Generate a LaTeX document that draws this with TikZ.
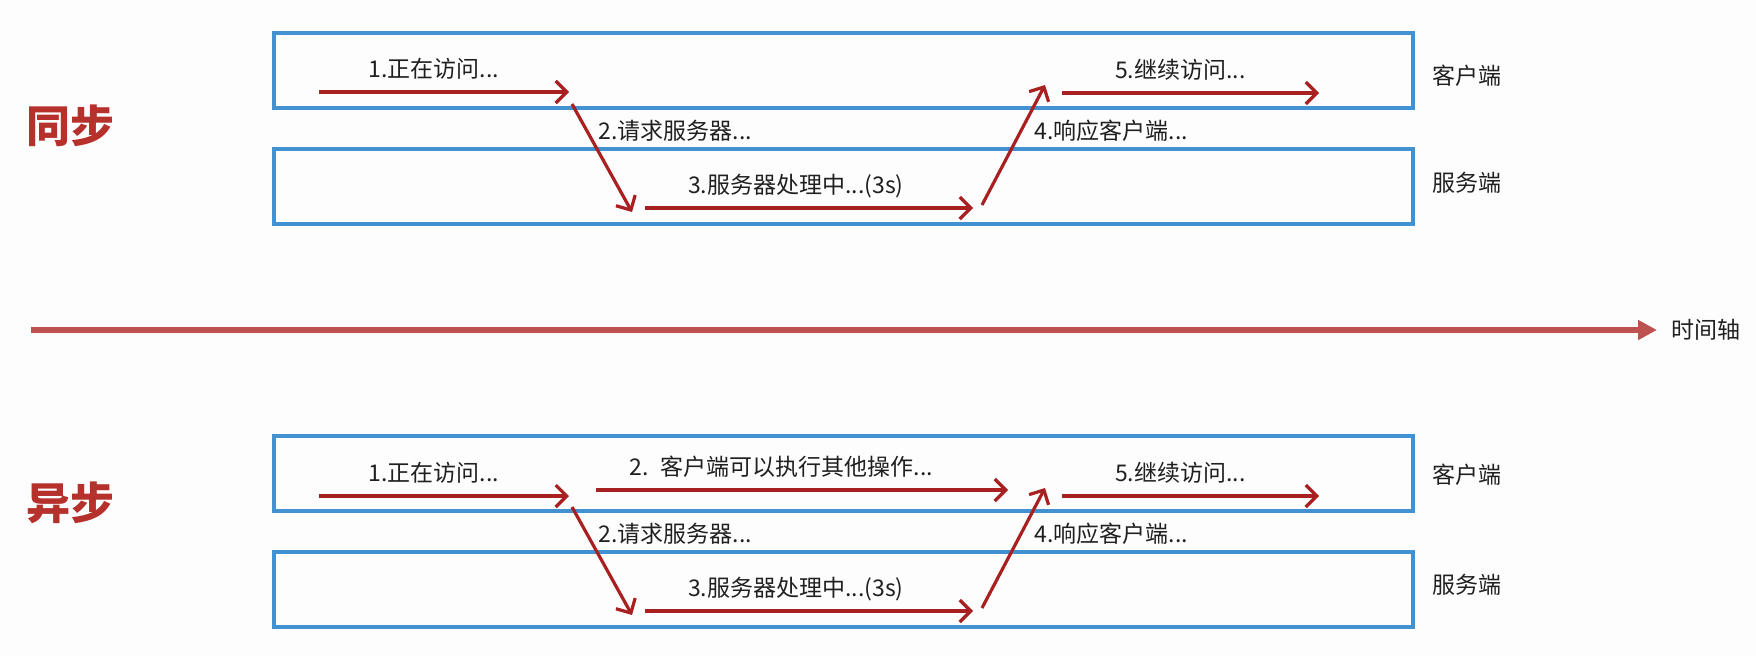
\documentclass[tikz,border=0pt]{standalone}
\usepackage{fontspec}
\setmainfont{Noto Sans CJK SC}
\usetikzlibrary{arrows.meta, positioning}

\definecolor{laneblue}{RGB}{66,146,210}
\definecolor{flowred}{RGB}{168,32,32}
\definecolor{axisred}{RGB}{190,82,80}
\definecolor{titlered}{RGB}{182,48,44}
\definecolor{inkgray}{RGB}{32,32,32}
\definecolor{paper}{RGB}{253,253,254}

\begin{document}
\begin{tikzpicture}[
	x=1pt, y=-1pt,
	lane/.style={draw=laneblue, line width=4pt, minimum width=1139pt, minimum height=75pt, inner sep=0pt},
	flow/.style={draw=flowred, line width=3.2pt, -{Straight Barb[length=11pt, width=22pt, line width=3.2pt]}},
	lbl/.style={text=inkgray, font=\fontsize{23}{26}\selectfont, inner sep=2pt},
	toplbl/.style={lbl, pos=.46, above=#1},
	toplbl/.default=9pt,
	side/.style={lbl, inner sep=0pt},
	title/.style={text=titlered, font=\fontsize{44}{48}\selectfont\bfseries}
	]
	
	\fill[paper] (0,0) rectangle (1756,656);
	
	% ==================================================
	% Synchronous
	% ==================================================
	\begin{scope}
		
		\node[title] (sync) at (71,126) {同步};
		
		\node[lane] (cli) at (843.5,70) {};
		\node[lane] (srv) at (843.5,186) {};
		\node[side, right=17pt of cli, yshift=-6pt] (clilbl) {客户端};
		\node[side, right=17pt of srv, yshift=3pt] (srvlbl) {服务端};
		
		\coordinate (a1) at (319,92);   \coordinate (b1) at (569,92);
		\coordinate (a2) at (572,104);  \coordinate (b2) at (632,212);
		\coordinate (a3) at (645,208);  \coordinate (b3) at (973,208);
		\coordinate (a4) at (982,205);  \coordinate (b4) at (1045,85);
		\coordinate (a5) at (1062,93);  \coordinate (b5) at (1319,93);
		
		\draw[flow] (a1) -- node[toplbl] {1.正在访问...} (b1);
		\draw[flow] (a2) -- node[lbl, pos=.25, right=8pt] {2.请求服务器...} (b2);
		\draw[flow] (a3) -- node[toplbl=6pt] {3.服务器处理中...(3s)} (b3);
		\draw[flow] (a4) -- node[lbl, pos=.62, right=10pt] {4.响应客户端...} (b4);
		\draw[flow] (a5) -- node[toplbl] {5.继续访问...} (b5);
		
	\end{scope}
	
	% ==================================================
	% Time axis
	% ==================================================
	\coordinate (t0) at (31,330);
	\coordinate (t1) at (1657,330);
	\draw[draw=axisred, line width=6pt, -{Triangle[length=19pt, width=19pt]}] (t0) -- (t1);
	\node[side, right=14pt of t1] (axislbl) {时间轴};
	
	% ==================================================
	% Asynchronous
	% ==================================================
	\begin{scope}[shift={(0,403)}]
		
		\node[title] (async) at (71,100) {异步};
		
		\node[lane] (acli) at (843.5,70) {};
		\node[lane] (asrv) at (843.5,186) {};
		\node[side, right=17pt of acli, yshift=-2pt] (aclilbl) {客户端};
		\node[side, right=17pt of asrv, yshift=4pt] (asrvlbl) {服务端};
		
		\coordinate (c1) at (319,93);   \coordinate (d1) at (569,93);
		\coordinate (c2) at (572,104);  \coordinate (d2) at (632,212);
		\coordinate (c3) at (645,208);  \coordinate (d3) at (973,208);
		\coordinate (c4) at (982,205);  \coordinate (d4) at (1045,85);
		\coordinate (c5) at (1062,93);  \coordinate (d5) at (1319,93);
		\coordinate (cx) at (596,87);   \coordinate (dx) at (1008,87);
		
		\draw[flow] (c1) -- node[toplbl] {1.正在访问...} (d1);
		\draw[flow] (cx) -- node[toplbl, pos=.45] {2.\enspace 客户端可以执行其他操作...} (dx);
		\draw[flow] (c2) -- node[lbl, pos=.25, right=8pt] {2.请求服务器...} (d2);
		\draw[flow] (c3) -- node[toplbl=6pt] {3.服务器处理中...(3s)} (d3);
		\draw[flow] (c4) -- node[lbl, pos=.62, right=10pt] {4.响应客户端...} (d4);
		\draw[flow] (c5) -- node[toplbl] {5.继续访问...} (d5);
		
	\end{scope}
	
\end{tikzpicture}
\end{document}
